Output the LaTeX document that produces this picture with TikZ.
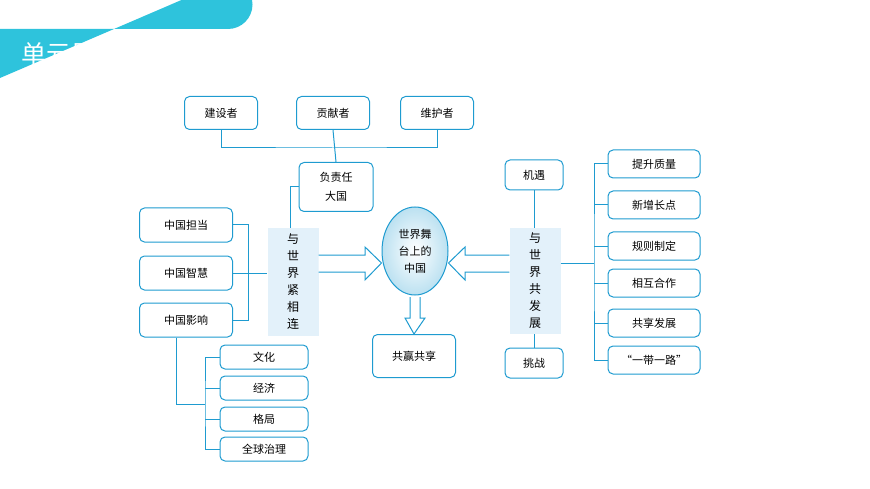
\documentclass[tikz,border=0pt]{standalone}
\usepackage{fontspec}
\newfontfamily\cjk{Noto Sans CJK SC}
\usepackage{tikz}
\usetikzlibrary{positioning,calc,shapes.geometric}
\definecolor{mapblue}{HTML}{1E9BD0}
\definecolor{bannercyan}{HTML}{2EC3DC}
\definecolor{panelblue}{HTML}{E3F1FA}
\tikzstyle{item}=[rectangle, rounded corners=5pt, draw=mapblue, line width=1pt, fill=white, text=black, font=\cjk\fontsize{11}{13}\selectfont, inner sep=0pt]
\tikzstyle{stem}=[fill=panelblue, text=black, font=\cjk\fontsize{12}{17}\selectfont, align=center, minimum width=51pt]
\tikzstyle{link}=[draw=mapblue, line width=1pt]
\tikzstyle{fat}=[draw=mapblue, line width=1pt, fill=white, line join=miter]

\begin{document}
\begin{tikzpicture}[x=1pt, y=-1pt]
    \useasboundingbox (0,0) rectangle (870,489);

        % banner
        \fill[bannercyan] (0,29) -- (228,29) arc[start angle=90, end angle=-90, radius=24.5] -- (0,78) -- cycle;
        \node (title) [text=white, font=\cjk\fontsize{25}{28}\selectfont, anchor=west] at (18,54) {单元思维导图};

        % top row
        \node(jianshe)[item, minimum width=73pt, minimum height=33pt] at (221,113) {建设者};
        \node(gongxian)[item, minimum width=73pt, minimum height=33pt] at (333,113) {贡献者};
        \node(weihu)[item, minimum width=73pt, minimum height=33pt] at (437,113) {维护者};
        \node(zeren)[item, minimum width=74pt, minimum height=49pt, align=center, font=\cjk\fontsize{11}{19}\selectfont] at (336,187) {负责任\\大国};
        \coordinate (topbar) at (333,148);
        \draw[link] (jianshe.south) |- (topbar) -| (weihu.south);
        \draw[link] (gongxian.south) -- (zeren.north);

        % left group
        \node(linkstem)[stem, minimum height=108pt] at (293,282) {与\\世\\界\\紧\\相\\连};
        \node(dandang)[item, minimum width=93pt, minimum height=34pt] at (186,225) {中国担当};
        \node(zhihui)[item, minimum width=93pt, minimum height=34pt] at (186,273) {中国智慧};
        \node(yingxiang)[item, minimum width=93pt, minimum height=34pt] at (186,320) {中国影响};
        \draw[link] (dandang.east) -- ++(15,0) |- (yingxiang.east);
        \draw[link] (zhihui.east) -- (linkstem.west |- zhihui.east);
        \draw[link] (linkstem.north -| 290,0) |- (zeren.west);

        \node(wenhua)[item, minimum width=88pt, minimum height=24pt] at (264,357) {文化};
        \node(jingji)[item, minimum width=88pt, minimum height=24pt] at (264,388) {经济};
        \node(geju)[item, minimum width=88pt, minimum height=24pt] at (264,419) {格局};
        \node(zhili)[item, minimum width=88pt, minimum height=24pt] at (264,449) {全球治理};
        \coordinate (spine) at (205,404);
        \draw[link] (yingxiang.south -| 176,0) |- (spine);
        \draw[link] (wenhua.west) -| (spine) |- (zhili.west);
        \foreach \b in {jingji, geju}{
            \draw[link] (\b.west) -- (spine |- \b.west);
        };

        % centre
        \node(stage)[ellipse, draw=mapblue, line width=1pt, inner color=white, outer color=mapblue!30, minimum width=66pt, minimum height=88pt, align=center, font=\cjk\fontsize{11}{17}\selectfont, inner sep=0pt] at (415,251) {世界舞\\台上的\\中国};
        \node(share)[item, minimum width=83pt, minimum height=43pt] at (414,356) {共赢共享};

        \draw[fat] (linkstem.east |- 0,255) -- (365,255) -- (365,247) -- (stage.west |- 0,263) -- (365,280) -- (365,272) -- (linkstem.east |- 0,272);
        \draw[fat] (410,297) -- (410,318) -- (405,318) -- (share.north) -- (425,318) -- (420,318) -- (420,297);

        % right group
        \node(grow)[stem, minimum height=106pt] at (535,281) {与\\世\\界\\共\\发\\展};
        \node(chance)[item, minimum width=58pt, minimum height=30pt] at (534,175) {机遇};
        \node(risk)[item, minimum width=58pt, minimum height=30pt] at (534,363) {挑战};
        \draw[link] (chance.south) -- (grow.north -| chance.south);
        \draw[link] (grow.south -| risk.north) -- (risk.north);
        \draw[fat] (grow.west |- 0,255) -- (465,255) -- (465,247) -- (stage.east |- 0,263) -- (465,280) -- (465,272) -- (grow.west |- 0,272);

        \node(quality)[item, minimum width=92pt, minimum height=28pt] at (654,164) {提升质量};
        \node(newpoint)[item, minimum width=92pt, minimum height=28pt] at (654,205) {新增长点};
        \node(rules)[item, minimum width=92pt, minimum height=28pt] at (654,246) {规则制定};
        \node(coop)[item, minimum width=92pt, minimum height=28pt] at (654,283) {相互合作};
        \node(devshare)[item, minimum width=92pt, minimum height=28pt] at (654,323) {共享发展};
        \node(belt)[item, minimum width=92pt, minimum height=28pt] at (654,360) {“一带一路”};
        \coordinate (rspine) at (594,263);
        \draw[link] (grow.east |- rspine) -- (rspine);
        \draw[link] (quality.west) -| (rspine) |- (belt.west);
        \foreach \b in {newpoint, rules, coop, devshare}{
            \draw[link] (\b.west) -- (rspine |- \b.west);
        };

    \end{tikzpicture}
\end{document}
